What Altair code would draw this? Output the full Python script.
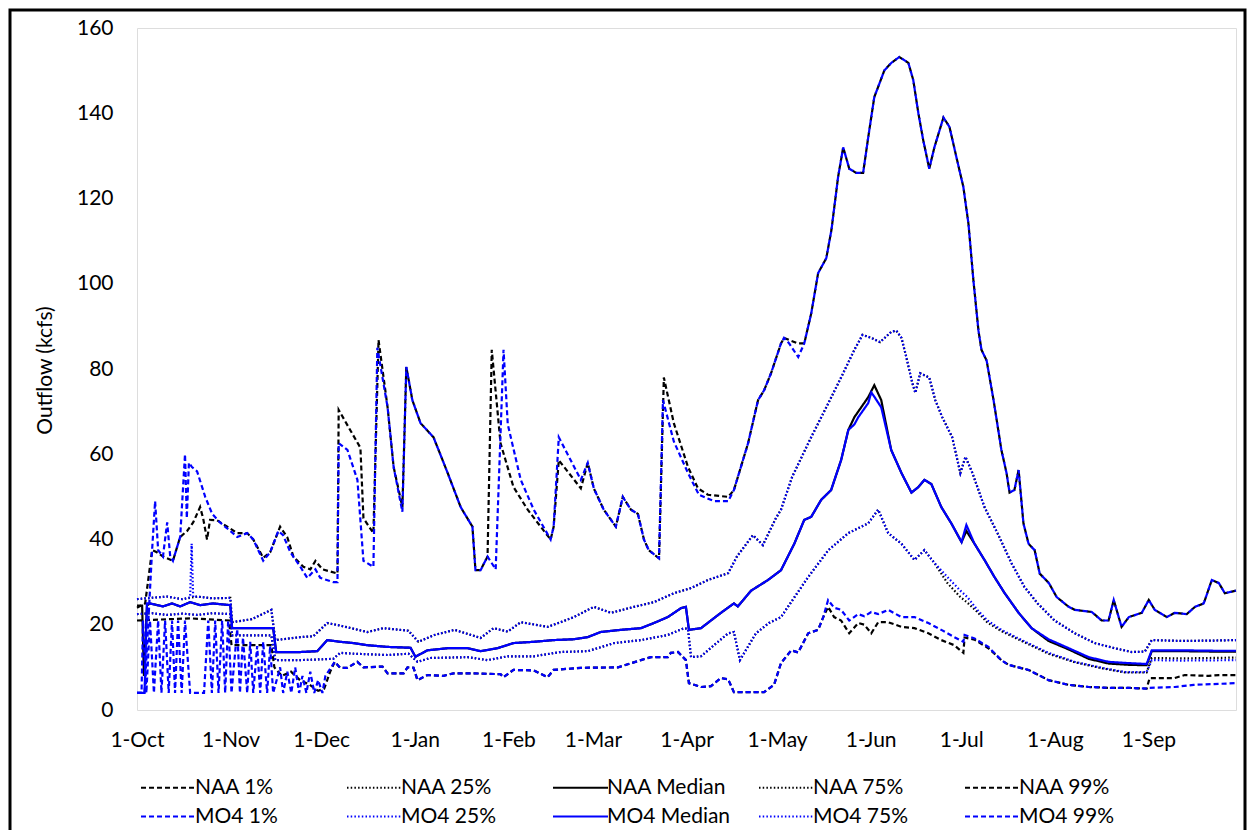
import altair as alt
import pandas as pd

# ---- data: day offset from 1-Oct and outflow (kcfs) ----
naa_99_days = [0, 2.7, 5, 6.6, 8.6, 11.9, 14.3, 16.6, 18.6, 20.9, 21.9, 23.2, 24.2, 26.5, 29.9, 33.2, 36.5, 38.5, 41.8, 44.1, 47.4, 49.8, 51.8, 55.1, 57.4, 59.1, 61.4, 64, 66.4, 66.8, 74, 75, 78.3, 80, 83, 85, 87.9, 89.2, 91.2, 93.9, 98.2, 102.9, 107.2, 111.1, 112.1, 113.8, 116.1, 117.5, 120.4, 124.7, 129.4, 133.7, 137, 138, 139.7, 147, 149.3, 151.3, 154.6, 158.6, 160.9, 163.6, 165.9, 167.9, 169.5, 172.9, 174.5, 177.8, 182.5, 185.8, 189.1, 195.8, 197.7, 202.4, 205.7, 207.7, 210, 213.3, 214.3, 216, 219, 221, 223.3, 225.6, 228.3, 230, 232.2, 233.9, 235.9, 238.2, 240.5, 242.2, 244.2, 247.5, 249.8, 252.5, 255.5, 257.1, 258.8, 260.4, 262.4, 264.1, 267.1, 269.1, 271.4, 273.7, 275.4, 277, 278.7, 279.7, 281.4, 283.7, 286.3, 288, 289, 290.6, 292, 293.6, 295.3, 297.3, 299, 302, 304.6, 308.6, 310.6, 316.2, 319.5, 321.8, 323.5, 326.1, 328.5, 332.8, 335.1, 337.1, 341.1, 343.7, 347.7, 350.4, 353.3, 356, 358.3, 360.3, 364]
naa_99_vals = [24, 25, 37.5, 37, 36, 35, 40.6, 42, 44, 47.6, 45, 40, 44.6, 44.5, 43, 41.5, 41.5, 40, 35.7, 37, 43, 40.5, 36, 33.6, 33, 35, 33, 32.5, 32, 70.4, 61.5, 45, 41.5, 86.8, 71, 57, 47.6, 80.5, 72.7, 67.3, 64, 55.6, 47.6, 43, 32.8, 32.8, 36, 84.5, 62.6, 52.3, 47, 43, 40, 43, 58.6, 52, 58, 52, 47, 43, 50, 47, 46, 40, 37.5, 35.6, 78, 67.3, 57, 52, 50.5, 50, 51.6, 62.6, 72.7, 75, 79, 86, 87.3, 86.8, 86, 86, 93, 102.5, 106, 112.6, 125, 132, 127, 126, 126, 134.4, 143.8, 150, 151.8, 153.2, 151.8, 147.8, 140, 133.7, 127, 132, 139, 136.8, 129.7, 122.7, 114, 101, 89, 84.5, 82, 72.7, 61, 55.6, 51, 51.6, 56.3, 43.8, 39, 37.5, 32, 29.8, 26.5, 24.2, 23.5, 23, 21, 21, 25.8, 19.5, 21.8, 22.8, 25.8, 23.5, 21.8, 22.8, 22.5, 24.2, 25, 30.5, 29.8, 27.4, 28]

mo4_99_days = [0, 2.5, 5, 6, 7, 8.6, 10, 11, 11.9, 14.3, 15.9, 16.5, 17.2, 18.2, 19.9, 22.6, 24.9, 27.5, 30.9, 33.2, 36.5, 38.5, 41.8, 44.1, 46.8, 48.4, 50.8, 54.1, 56.4, 59.1, 60.7, 65, 66.4, 66.8, 69.7, 73, 75, 78.3, 79.6, 83, 85, 87.9, 89.2, 91.2, 93.9, 98.2, 102.9, 107.2, 111.1, 112.1, 113.8, 116.1, 118.8, 121.4, 122.8, 127.1, 131.4, 137, 138, 139.7, 147, 149.3, 151.3, 154.6, 158.6, 160.9, 163.6, 165.9, 167.9, 169.5, 172.9, 174.2, 177.8, 182.5, 186.1, 191.1, 195.8, 197.7, 202.4, 205.7, 207.7, 210, 213.3, 214.3, 216, 219, 221, 223.3, 225.6, 228.3, 230, 232.2, 233.9, 235.9, 238.2, 240.5, 242.2, 244.2, 247.5, 249.8, 252.5, 255.5, 257.1, 258.8, 260.4, 262.4, 264.1, 267.1, 269.1, 271.4, 273.7, 275.4, 277, 278.7, 279.7, 281.4, 283.7, 286.3, 288, 289, 290.6, 292, 293.6, 295.3, 297.3, 299, 302, 304.6, 308.6, 310.6, 316.2, 319.5, 321.8, 323.5, 326.1, 328.5, 332.8, 335.1, 337.1, 341.1, 343.7, 347.7, 350.4, 353.3, 356, 358.3, 360.3, 364]
mo4_99_vals = [4, 4, 37.5, 49, 37.5, 36, 44, 36, 35, 40.6, 60, 45, 58, 57, 56, 50, 46, 44, 42, 40.6, 41.5, 40, 35, 37, 42, 41, 37, 33.6, 31, 33, 31, 30, 30, 62.6, 61, 54, 35, 33.6, 85, 71, 57, 46.5, 80.5, 72.7, 67.3, 64, 55.6, 47.6, 43, 32.8, 32.8, 36, 33, 84.5, 67, 54, 47, 40, 43, 64, 54, 58, 52, 47, 43, 50, 47, 46, 40, 37.5, 35.6, 72.7, 63, 55.6, 50.5, 49, 49, 51.6, 62.6, 72.7, 75, 79, 86, 87.3, 86, 82.8, 86, 93, 102.5, 106, 112.6, 125, 132, 127, 126, 126, 134.4, 143.8, 150, 151.8, 153.2, 151.8, 147.8, 140, 133.7, 127, 132, 139, 136.8, 129.7, 122.7, 114, 101, 89, 84.5, 82, 72.7, 61, 55.6, 51, 51.6, 56.3, 43.8, 39, 37.5, 32, 29.8, 26.5, 24.2, 23.5, 23, 21, 21, 25.8, 19.5, 21.8, 22.8, 25.8, 23.5, 21.8, 22.8, 22.5, 24.2, 25, 30.5, 29.8, 27.4, 28]

naa_med_days = [0, 1.7, 2.3, 3.3, 4.3, 8.6, 11.6, 14.3, 17.6, 20.9, 25.2, 30.9, 31.5, 45.1, 46.1, 54.1, 59.7, 63, 67.3, 71.7, 76.3, 83, 90.6, 92.2, 96.2, 102.9, 109.5, 113.8, 119.4, 124.7, 131.4, 138, 144.7, 149.3, 153.6, 160.2, 166.9, 171.2, 175.8, 180.2, 181.8, 182.8, 186.8, 190.1, 193.4, 197.7, 199, 203.4, 209, 213.3, 217.7, 221, 223.3, 226.6, 229.9, 233.2, 235.6, 237.6, 242.2, 244.2, 246.5, 249.8, 253.2, 256.5, 258.8, 260.8, 263.1, 266.4, 269.7, 273.1, 274.7, 277.4, 280.7, 284, 287.3, 292, 296.3, 301.9, 308.6, 315.2, 321.8, 328.5, 334.4, 336.1, 346.1, 357, 364]
naa_med_vals = [24.5, 24.5, 8, 24.5, 25, 24.3, 25, 24.3, 25.3, 24.6, 25, 24.6, 19.2, 19.2, 13.6, 13.6, 13.8, 16.4, 16, 15.7, 15.2, 14.8, 14.6, 12.5, 14, 14.5, 14.5, 13.8, 14.5, 15.7, 16, 16.4, 16.6, 17.1, 18.3, 18.8, 19.2, 20.4, 21.8, 23.9, 24.2, 18.8, 19.2, 21, 22.8, 25, 24.3, 28, 30.5, 32.8, 39, 44.6, 45.3, 49.3, 51.6, 58.6, 65.7, 68.7, 73.4, 76.2, 72.7, 61, 55.6, 51, 52.3, 54, 53, 47.6, 43.8, 39.4, 42, 39, 35.2, 31.2, 27.5, 22.8, 19.2, 16.2, 14.2, 12, 10.9, 10.6, 10.5, 13.8, 13.8, 13.7, 13.7]

mo4_med_days = [0, 2.5, 3.3, 4.3, 8.6, 11.6, 14.3, 17.6, 20.9, 25.2, 30.9, 31.5, 45.1, 46.1, 54.1, 59.7, 63, 67.3, 71.7, 76.3, 83, 90.6, 92.2, 96.2, 102.9, 109.5, 113.8, 119.4, 124.7, 131.4, 138, 144.7, 149.3, 153.6, 160.2, 166.9, 171.2, 175.8, 180.2, 181.8, 182.8, 186.8, 190.1, 193.4, 197.7, 199, 203.4, 209, 213.3, 217.7, 221, 223.3, 226.6, 229.9, 233.2, 235.6, 237.6, 238.9, 242.2, 243.2, 244.2, 246.5, 249.8, 253.2, 256.5, 258.8, 260.8, 263.1, 266.4, 269.7, 273.1, 274.7, 277.4, 280.7, 284, 287.3, 292, 296.3, 301.9, 308.6, 315.2, 321.8, 328.5, 334.4, 336.1, 346.1, 357, 364]
mo4_med_vals = [4, 4, 25, 25, 24.3, 25, 24.3, 25.3, 24.6, 25, 24.6, 19.2, 19.2, 13.6, 13.6, 13.8, 16.4, 16, 15.7, 15.2, 14.8, 14.6, 12.5, 14, 14.5, 14.5, 13.8, 14.5, 15.7, 16, 16.4, 16.6, 17.1, 18.3, 18.8, 19.2, 20.4, 21.8, 23.9, 24.2, 18.8, 19.2, 21, 22.8, 25, 24.3, 28, 30.5, 32.8, 39, 44.6, 45.3, 49.3, 51.6, 58.6, 65.7, 67, 68.7, 72, 74.5, 73.5, 71, 61, 55.6, 51, 52.3, 54, 53, 47.6, 43.8, 39.4, 43.4, 39, 35.2, 31.2, 27.5, 22.8, 19.2, 16.6, 14.5, 12.4, 11.3, 11, 10.8, 14, 14, 13.9, 13.9]

naa_75_days = [0, 4.3, 10, 15, 20, 25, 30.9, 31.5, 38, 44.5, 45.8, 54.1, 58.4, 63, 67.3, 76.3, 81.6, 89.9, 93.2, 98.5, 105.2, 113.8, 118.1, 122.8, 127.1, 136, 140.3, 144.7, 151.3, 157, 164.6, 171.2, 177.8, 183.5, 189.1, 195.8, 198.7, 202.4, 204, 207.3, 211.6, 213.3, 217, 223.3, 229, 233.2, 237.6, 240.3, 243.2, 246.1, 249.8, 251.5, 253.2, 254.8, 256.8, 257.8, 259.4, 262.4, 264.4, 266.7, 270, 272.7, 274.4, 276.7, 280.7, 285, 289.6, 293.9, 298.3, 303.9, 310.6, 317.2, 323.8, 329.5, 333.8, 336.1, 346.1, 357, 364]
naa_75_vals = [26, 26.3, 26.6, 26, 26.6, 26.2, 26.3, 20.6, 21.3, 23.5, 16.4, 17.1, 17.3, 20.4, 19.8, 18.3, 19.2, 18.6, 16, 17.6, 18.8, 16.9, 19.2, 18.4, 20.6, 19.5, 20.6, 21.8, 24.2, 22.8, 24.2, 25.3, 27.4, 28.6, 30.5, 32.1, 36, 39.5, 41, 38.7, 45, 47, 54.7, 64, 72, 78, 84.5, 88, 87.3, 86.3, 88.7, 89, 87.3, 82.8, 76.7, 74.4, 79, 78, 72.7, 68.7, 64, 55.6, 59.4, 55.6, 47.6, 41.5, 34.5, 28.9, 25, 21, 18, 15.7, 14.5, 13.6, 13.7, 16.4, 16.2, 16.3, 16.4]

mo4_75_days = [0, 4.3, 10, 15, 17.6, 18.1, 18.6, 20, 25, 30.9, 31.5, 38, 44.5, 45.8, 54.1, 58.4, 63, 67.3, 76.3, 81.6, 89.9, 93.2, 98.5, 105.2, 113.8, 118.1, 122.8, 127.1, 136, 140.3, 144.7, 151.3, 157, 164.6, 171.2, 177.8, 183.5, 189.1, 195.8, 198.7, 202.4, 204, 207.3, 211.6, 213.3, 217, 223.3, 229, 233.2, 237.6, 240.3, 243.2, 246.1, 249.8, 251.5, 253.2, 254.8, 256.8, 257.8, 259.4, 262.4, 264.4, 266.7, 270, 272.7, 274.4, 276.7, 280.7, 285, 289.6, 293.9, 298.3, 303.9, 310.6, 317.2, 323.8, 329.5, 333.8, 336.1, 346.1, 357, 364]
mo4_75_vals = [26, 26.3, 26.6, 26, 26.4, 39, 26.5, 26.6, 26.2, 26.3, 20.6, 21.3, 23.5, 16.4, 17.1, 17.3, 20.4, 19.8, 18.3, 19.2, 18.6, 16, 17.6, 18.8, 16.9, 19.2, 18.4, 20.6, 19.5, 20.6, 21.8, 24.2, 22.8, 24.2, 25.3, 27.4, 28.6, 30.5, 32.1, 36, 39.5, 41, 38.7, 45, 47, 54.7, 64, 72, 78, 84.5, 88, 87.3, 86.3, 88.7, 89, 87.3, 82.8, 76.7, 74.4, 79, 78, 72.7, 68.7, 64, 55.6, 59.4, 55.6, 47.6, 41.5, 34.5, 28.9, 25, 21, 18, 15.7, 14.5, 13.6, 13.7, 16.4, 16.2, 16.3, 16.4]

naa_25_days = [0, 5, 10, 15, 20, 25, 30.9, 31.5, 44.5, 45.8, 54.1, 65, 67.3, 72, 83, 89.9, 92.9, 97.2, 109.5, 116.1, 122.8, 131.4, 140.3, 149.3, 158, 166.9, 175.8, 181.2, 182.5, 183.5, 186.8, 191.1, 195.8, 197.7, 199.7, 205, 209.3, 213.3, 215.6, 222.3, 229, 235.6, 242.2, 245.5, 248.8, 253.2, 257.5, 260.8, 264.1, 268.4, 272.7, 275, 278.3, 281.7, 286.3, 293, 301.9, 310.6, 319.5, 327.2, 334.4, 336.1, 346.1, 364]
naa_25_vals = [22.5, 22.7, 22.3, 22.6, 22.3, 22.7, 22.5, 17.5, 17.5, 11.7, 11.7, 12, 13.4, 13.2, 12.9, 13.2, 11.3, 12.2, 12.4, 11.7, 12.6, 12.6, 13.6, 13.8, 15.7, 16.4, 17.6, 19.2, 19, 12.4, 12.6, 15.2, 18, 18.3, 11.7, 18, 20.4, 21.8, 24.2, 31.2, 37.5, 41.5, 43.8, 47, 41.5, 39, 35.2, 37.5, 34.5, 29.8, 26.5, 25.2, 23, 20.5, 18.5, 16.2, 13.2, 11.2, 9.8, 8.8, 8.8, 12.2, 12.1, 12.3]

mo4_25_days = [0, 5, 10, 15, 20, 25, 30.9, 31.5, 44.5, 45.8, 54.1, 65, 67.3, 72, 83, 89.9, 92.9, 97.2, 109.5, 116.1, 122.8, 131.4, 140.3, 149.3, 158, 166.9, 175.8, 181.2, 182.5, 183.5, 186.8, 191.1, 195.8, 197.7, 199.7, 205, 209.3, 213.3, 215.6, 222.3, 229, 235.6, 242.2, 245.5, 248.8, 253.2, 257.5, 260.8, 264.1, 268.4, 272.7, 275, 278.3, 281.7, 286.3, 293, 301.9, 310.6, 319.5, 327.2, 334.4, 336.1, 346.1, 364]
mo4_25_vals = [22.5, 22.7, 22.3, 22.6, 22.3, 22.7, 22.5, 17.5, 17.5, 11.7, 11.7, 12, 13.4, 13.2, 12.9, 13.2, 11.3, 12.2, 12.4, 11.7, 12.6, 12.6, 13.6, 13.8, 15.7, 16.4, 17.6, 19.2, 19, 12.4, 12.6, 15.2, 18, 18.3, 11.7, 18, 20.4, 21.8, 24.2, 31.2, 37.5, 41.5, 43.8, 47, 41.5, 39, 35.2, 37.5, 34.5, 31.2, 28, 26.5, 23.5, 21, 18.8, 16.4, 13.4, 11.3, 9.9, 8.9, 8.9, 11.7, 11.6, 11.7]

naa_01_days = [0, 17.6, 30.5, 31.3, 44.5, 45.5, 48, 51, 54, 57, 60, 62, 64, 65.5, 67.3, 69.7, 73, 75, 81.3, 83, 88.3, 89.6, 91.6, 92.9, 96.2, 101.5, 104.8, 111.5, 120.4, 121.4, 124.7, 131.4, 136, 138, 147, 159.3, 166.9, 170.2, 175.8, 176.8, 179.2, 181.8, 182.8, 186.8, 190.1, 193.4, 195.8, 197.7, 207.7, 211, 213.3, 216.7, 219, 222.3, 225.6, 227.3, 228.9, 230.9, 233.2, 235.9, 238.9, 240.9, 243.2, 245.5, 248.8, 253.2, 257.5, 262.1, 266.4, 270.7, 273.7, 274.1, 277.4, 282, 286.3, 288.6, 295.3, 301.9, 308.6, 315.2, 321.8, 328.5, 334.4, 335.4, 343.7, 347, 355, 358.3, 364]
naa_01_vals = [21, 21.5, 21, 15.2, 15.2, 10, 8, 9, 7, 6, 4.5, 5, 9, 11.3, 9.9, 9.9, 11.3, 10, 10.2, 8.6, 8.6, 10, 9.9, 7, 8.2, 8, 8.6, 8.6, 8.4, 7.7, 9.4, 9.3, 7.7, 9.4, 9.9, 10, 11.7, 12.4, 12.4, 13.4, 13.6, 11.7, 6.3, 5.4, 5.6, 7.5, 7.2, 4.2, 4.2, 5.9, 11, 14, 13.5, 18, 18.8, 21.8, 24.2, 21.8, 21, 18, 20.4, 20, 18, 20.6, 20.6, 19.5, 19.2, 18, 16.4, 15.2, 13.4, 17, 16.5, 14.5, 11.7, 10.6, 9.4, 7, 5.9, 5.4, 5.2, 5.2, 5, 7.5, 7.5, 8.2, 8, 8.2, 8.2]

mo4_01_days = [0, 1.5, 2, 3.1, 4.3, 5.6, 7, 8.1, 9.3, 10.5, 11.6, 12.6, 13.6, 14.8, 15.9, 17.6, 22.2, 23.6, 24.8, 25.9, 27, 28.2, 29.2, 30.2, 31.3, 33.2, 34.1, 35.1, 36.5, 37.5, 38.5, 39.8, 40.8, 41.8, 43.1, 44.1, 45.1, 47.4, 48.4, 49.8, 51.1, 52.4, 53.7, 54.8, 56.1, 57.4, 58.7, 60, 61.4, 62.4, 65.5, 67.3, 69.7, 73, 75, 81.3, 83, 88.3, 89.6, 91.6, 92.9, 96.2, 101.5, 104.8, 111.5, 120.4, 121.4, 124.7, 131.4, 136, 138, 147, 159.3, 166.9, 170.2, 175.8, 176.8, 179.2, 181.8, 182.8, 186.8, 190.1, 193.4, 195.8, 197.7, 207.7, 211, 213.3, 216.7, 219, 222.3, 225.6, 227.3, 228.9, 230.9, 233.2, 235.9, 238.9, 240.9, 243.2, 245.5, 248.8, 253.2, 257.5, 262.1, 266.4, 270.7, 273.7, 274.1, 277.4, 282, 286.3, 288.6, 295.3, 301.9, 308.6, 315.2, 321.8, 328.5, 334.4, 335.4, 343.7, 350, 364]
mo4_01_vals = [4, 4, 21, 4, 21, 4, 21, 4, 21, 4, 21, 4, 21, 4, 21, 4, 4, 21, 4, 21, 4, 21, 4, 21, 4, 19, 4, 17, 4, 16, 4, 15, 4, 16, 4, 15, 4, 10, 4, 9, 4, 10, 4, 8, 4, 9, 4, 7, 4, 8, 11.3, 9.9, 9.9, 11.3, 10, 10.2, 8.6, 8.6, 10, 9.9, 7, 8.2, 8, 8.6, 8.6, 8.4, 7.7, 9.4, 9.3, 7.7, 9.4, 9.9, 10, 11.7, 12.4, 12.4, 13.4, 13.6, 11.7, 6.3, 5.4, 5.6, 7.5, 7.2, 4.2, 4.2, 5.9, 11, 14, 13.5, 18, 18.8, 21.8, 25.8, 24, 23.5, 21, 22.5, 22, 23, 22.5, 23.5, 21.8, 21.8, 20.4, 18.8, 17.1, 16, 17.6, 16.8, 14.8, 11.7, 10.6, 9.4, 7, 5.9, 5.4, 5.2, 5.2, 5, 5.2, 5.4, 5.9, 6.3]

naa_names = ["NAA 1%", "NAA 25%", "NAA Median", "NAA 75%", "NAA 99%"]
mo4_names = ["MO4 1%", "MO4 25%", "MO4 Median", "MO4 75%", "MO4 99%"]
month_ticks = [(2021, 10), (2021, 11), (2021, 12), (2022, 1), (2022, 2), (2022, 3),
               (2022, 4), (2022, 5), (2022, 6), (2022, 7), (2022, 8), (2022, 9)]

series = [
    ("NAA 1%", naa_01_days, naa_01_vals), ("NAA 25%", naa_25_days, naa_25_vals),
    ("NAA Median", naa_med_days, naa_med_vals), ("NAA 75%", naa_75_days, naa_75_vals),
    ("NAA 99%", naa_99_days, naa_99_vals),
    ("MO4 1%", mo4_01_days, mo4_01_vals), ("MO4 25%", mo4_25_days, mo4_25_vals),
    ("MO4 Median", mo4_med_days, mo4_med_vals), ("MO4 75%", mo4_75_days, mo4_75_vals),
    ("MO4 99%", mo4_99_days, mo4_99_vals),
]

base = pd.Timestamp("2021-10-01")
rows = []
for name, days, vals in series:
    for i, (d, v) in enumerate(zip(days, vals)):
        rows.append({"series": name, "group": name.split()[0],
                     "date": (base + pd.Timedelta(hours=d * 24)).strftime("%Y-%m-%dT%H:%M:%S"),
                     "flow": v, "i": i})
df = pd.DataFrame(rows)

domain = naa_names + mo4_names
color_range = ["#000000"] * 5 + ["#0000ff"] * 5
dash_style = {"1%": [5, 3], "25%": [1.5, 2.2], "Median": [1, 0], "75%": [1.5, 2.2], "99%": [5, 3]}
dash_range = [dash_style[n.split()[1]] for n in domain]

x_enc = alt.X("date:T", title=None,
              scale=alt.Scale(domain=[alt.DateTime(year=2021, month=10, date=1),
                                      alt.DateTime(year=2022, month=9, date=30)]),
              axis=alt.Axis(values=[alt.DateTime(year=y, month=m, date=1) for y, m in month_ticks],
                            format="%-d-%b", labelFlush=False, labelOverlap=False,
                            ticks=False, domain=False, grid=False, labelPadding=19,
                            labelFontSize=21, labelFont="Lato", labelColor="#000"))
y_enc = alt.Y("flow:Q", title="Outflow (kcfs)",
              scale=alt.Scale(domain=[0, 160], nice=False),
              axis=alt.Axis(values=list(range(0, 161, 20)), ticks=False, domain=False, grid=False,
                            labelPadding=24, labelFontSize=21, labelFont="Lato", labelColor="#000",
                            titleFontSize=21, titleFont="Lato", titleFontWeight="normal",
                            titleColor="#000", titleAngle=-90, titleX=-92, titleY=342,
                            titleAlign="center", titleBaseline="middle"))

legend = alt.Legend(orient="none", legendX=21, legendY=749, columns=5, direction="horizontal",
                    title=None, symbolType="M-5,0H5", symbolSize=121,
                    symbolStrokeWidth=2, labelFontSize=21, labelFont="Lato",
                    labelColor="#000", labelOffset=16, gridAlign="all",
                    columnPadding=24, rowPadding=7, padding=0)
color_enc = alt.Color("series:N", scale=alt.Scale(domain=domain, range=color_range), legend=legend)
dash_enc = alt.StrokeDash("series:N", scale=alt.Scale(domain=domain, range=dash_range), legend=legend)

def lines(group):
    return alt.Chart(df).transform_filter(alt.datum.group == group).mark_line(
        strokeWidth=2.2, interpolate="linear").encode(
        x=x_enc, y=y_enc, color=color_enc, strokeDash=dash_enc, order="i:Q", detail="series:N")

frame = alt.Chart(pd.DataFrame({"k": [0]})).mark_rect(
    fill=None, stroke="#000", strokeWidth=3).encode(
    x=alt.value(-127), x2=alt.value(1108), y=alt.value(-18), y2=alt.value(830))

chart = alt.layer(lines("NAA"), lines("MO4"), frame).properties(
    width=1099, height=682,
    padding={"left": 129, "top": 20, "right": 11, "bottom": 120},
    autosize=alt.AutoSizeParams(type="none"),
    background="white",
).configure_view(stroke="#555", strokeWidth=2).configure(font="Lato")

chart.save("out.html", embed_options={"renderer": "svg", "actions": False})
